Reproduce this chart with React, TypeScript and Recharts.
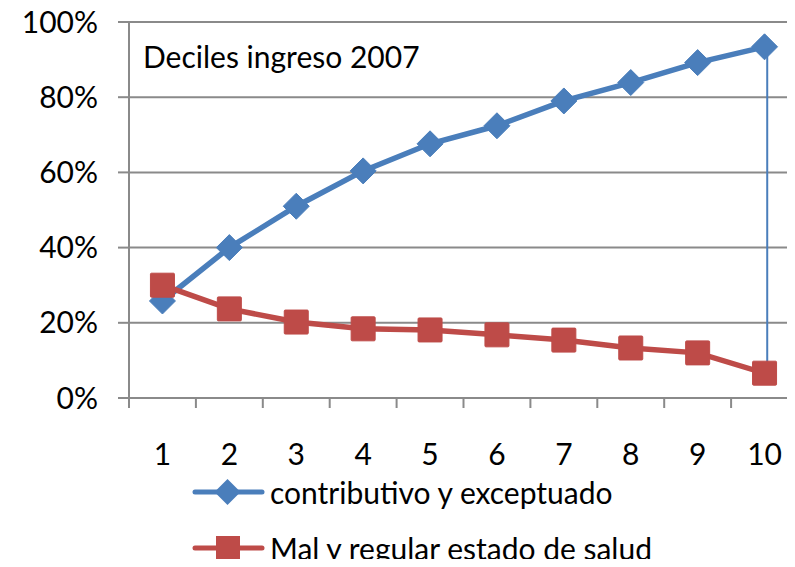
import React from "react";
import {
  LineChart,
  Line,
  XAxis,
  YAxis,
  CartesianGrid,
  ReferenceLine,
} from "recharts";

const deciles = [1, 2, 3, 4, 5, 6, 7, 8, 9, 10];
const contributivo = [25.8, 40.0, 51.0, 60.4, 67.6, 72.4, 79.0, 83.9, 89.2, 93.4];
const malEstado = [30.0, 23.7, 20.2, 18.4, 18.1, 16.8, 15.4, 13.3, 12.0, 6.6];
const yTicks = [0, 20, 40, 60, 80, 100];
const bandEdges = [0.5, 1.5, 2.5, 3.5, 4.5, 5.5, 6.5, 7.5, 8.5, 9.5, 10.5];
// stray connector in the original, from the last blue point down to the red one
const stray = [
  { x: 10.04, y: 93.4 },
  { x: 10.04, y: 8.8 },
];

const data = deciles.map((d, i) => ({
  decil: d,
  contributivo: contributivo[i],
  mal: malEstado[i],
}));

const xTicks = [...bandEdges, ...deciles].sort((a, b) => a - b);

const BLUE = "#4a7ebb";
const RED = "#be4b48";
const GRID = "#8a8a8a";
const FONT = "Lato, 'Open Sans', sans-serif";
const FS = 30;

const Diamond = (props: any) => {
  const { cx, cy } = props;
  if (cx == null || cy == null) return null;
  const r = 13;
  return (
    <path
      key={`d-${cx}`}
      d={`M${cx},${cy - r}L${cx + r},${cy}L${cx},${cy + r}L${cx - r},${cy}Z`}
      fill={BLUE}
      stroke={BLUE}
    />
  );
};

const Square = (props: any) => {
  const { cx, cy } = props;
  if (cx == null || cy == null) return null;
  const s = 12;
  return (
    <rect
      key={`s-${cx}`}
      x={cx - s}
      y={cy - s}
      width={s * 2}
      height={s * 2}
      fill={RED}
      stroke={RED}
      rx={1}
    />
  );
};

// band-edge ticks get a short mark, whole deciles get their label
const DecileTick = (props: any) => {
  const { x, y, payload } = props;
  const v = payload.value;
  if (!Number.isInteger(v)) {
    return <line x1={x} y1={y} x2={x} y2={y + 10} stroke={GRID} strokeWidth={2} />;
  }
  return (
    <text x={x} y={y + 67} textAnchor="middle" fontSize={FS} fontFamily={FONT} fill="#000">
      {v}
    </text>
  );
};

const LegendRow = ({ color, label, square }: { color: string; label: string; square?: boolean }) => (
  <div style={{ display: "flex", alignItems: "center", height: 40 }}>
    <svg width={75} height={30} style={{ marginRight: 3 }}>
      <line x1={3} y1={15} x2={70} y2={15} stroke={color} strokeWidth={5} strokeLinecap="round" />
      {square ? (
        <rect x={24} y={3} width={24} height={24} fill={color} />
      ) : (
        <path d="M35.5,2L48.5,15L35.5,28L22.5,15Z" fill={color} />
      )}
    </svg>
    <span style={{ fontSize: FS, color: "#000", whiteSpace: "nowrap" }}>{label}</span>
  </div>
);

export default function App() {
  return (
    <div
      style={{
        position: "relative",
        width: 795,
        height: 567,
        margin: -8,
        overflow: "hidden",
        background: "#fff",
        fontFamily: FONT,
      }}
    >
      <LineChart
        width={820}
        height={567}
        data={data}
        margin={{ top: 22, right: 22, left: 0, bottom: 0 }}
      >
        <CartesianGrid vertical={false} stroke={GRID} strokeWidth={2} />
        <XAxis
          type="number"
          dataKey="decil"
          domain={[0.5, 10.5]}
          ticks={xTicks}
          interval={0}
          tick={<DecileTick />}
          tickSize={0}
          tickMargin={0}
          tickLine={false}
          axisLine={{ stroke: GRID, strokeWidth: 2 }}
          height={169}
        />
        <YAxis
          domain={[0, 100]}
          ticks={yTicks}
          width={129}
          tickSize={11}
          tickMargin={20}
          tickFormatter={(v: number) => `${v}%`}
          tick={{ fill: "#000", fontSize: FS, fontFamily: FONT }}
          tickLine={{ stroke: GRID, strokeWidth: 2 }}
          axisLine={{ stroke: GRID, strokeWidth: 2 }}
        />
        <ReferenceLine segment={stray} stroke={BLUE} strokeWidth={2} />
        <Line
          type="linear"
          dataKey="contributivo"
          stroke={BLUE}
          strokeWidth={5.5}
          dot={<Diamond />}
          isAnimationActive={false}
        />
        <Line
          type="linear"
          dataKey="mal"
          stroke={RED}
          strokeWidth={5.5}
          dot={<Square />}
          isAnimationActive={false}
        />
      </LineChart>
      <div style={{ position: "absolute", left: 143, top: 38, fontSize: FS, color: "#000", whiteSpace: "nowrap" }}>
        Deciles ingreso 2007
      </div>
      <div style={{ position: "absolute", left: 192, top: 472 }}>
        <LegendRow color={BLUE} label="contributivo y exceptuado" />
        <div style={{ height: 16 }} />
        <LegendRow color={RED} label="Mal y regular estado de salud" square />
      </div>
    </div>
  );
}
